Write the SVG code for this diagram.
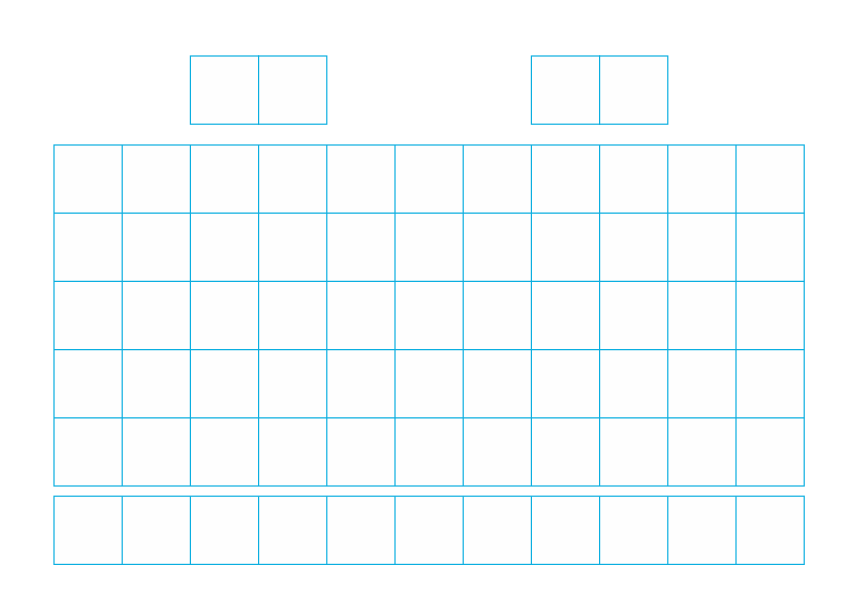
<svg xmlns="http://www.w3.org/2000/svg" width="859" height="612" viewBox="0 0 859 612">
<defs>
<style>
.c{fill:#fefefe;stroke:#0aaee0;stroke-width:1.2}
.l{fill:none;stroke:#0aaee0;stroke-width:1.2}
</style>
</defs>
<rect width="859" height="612" fill="#ffffff"/>
<g id="top-left">
<rect class="c" x="190.4" y="56" width="68.2" height="68.2"/>
<rect class="c" x="258.6" y="56" width="68.2" height="68.2"/>
</g>
<g id="top-right">
<rect class="c" x="531.4" y="56" width="68.2" height="68.2"/>
<rect class="c" x="599.6" y="56" width="68.2" height="68.2"/>
</g>
<g id="main-grid">
<rect class="c" x="54" y="145" width="750.2" height="341"/>
<path class="l" d="M122.2 145V486M190.4 145V486M258.6 145V486M326.8 145V486M395 145V486M463.2 145V486M531.4 145V486M599.6 145V486M667.8 145V486M736 145V486M54 213.2H804.2M54 281.4H804.2M54 349.6H804.2M54 417.8H804.2"/>
</g>
<g id="bottom-row">
<rect class="c" x="54" y="496.2" width="750.2" height="68.2"/>
<path class="l" d="M122.2 496.2V564.4M190.4 496.2V564.4M258.6 496.2V564.4M326.8 496.2V564.4M395 496.2V564.4M463.2 496.2V564.4M531.4 496.2V564.4M599.6 496.2V564.4M667.8 496.2V564.4M736 496.2V564.4"/>
</g>
</svg>
